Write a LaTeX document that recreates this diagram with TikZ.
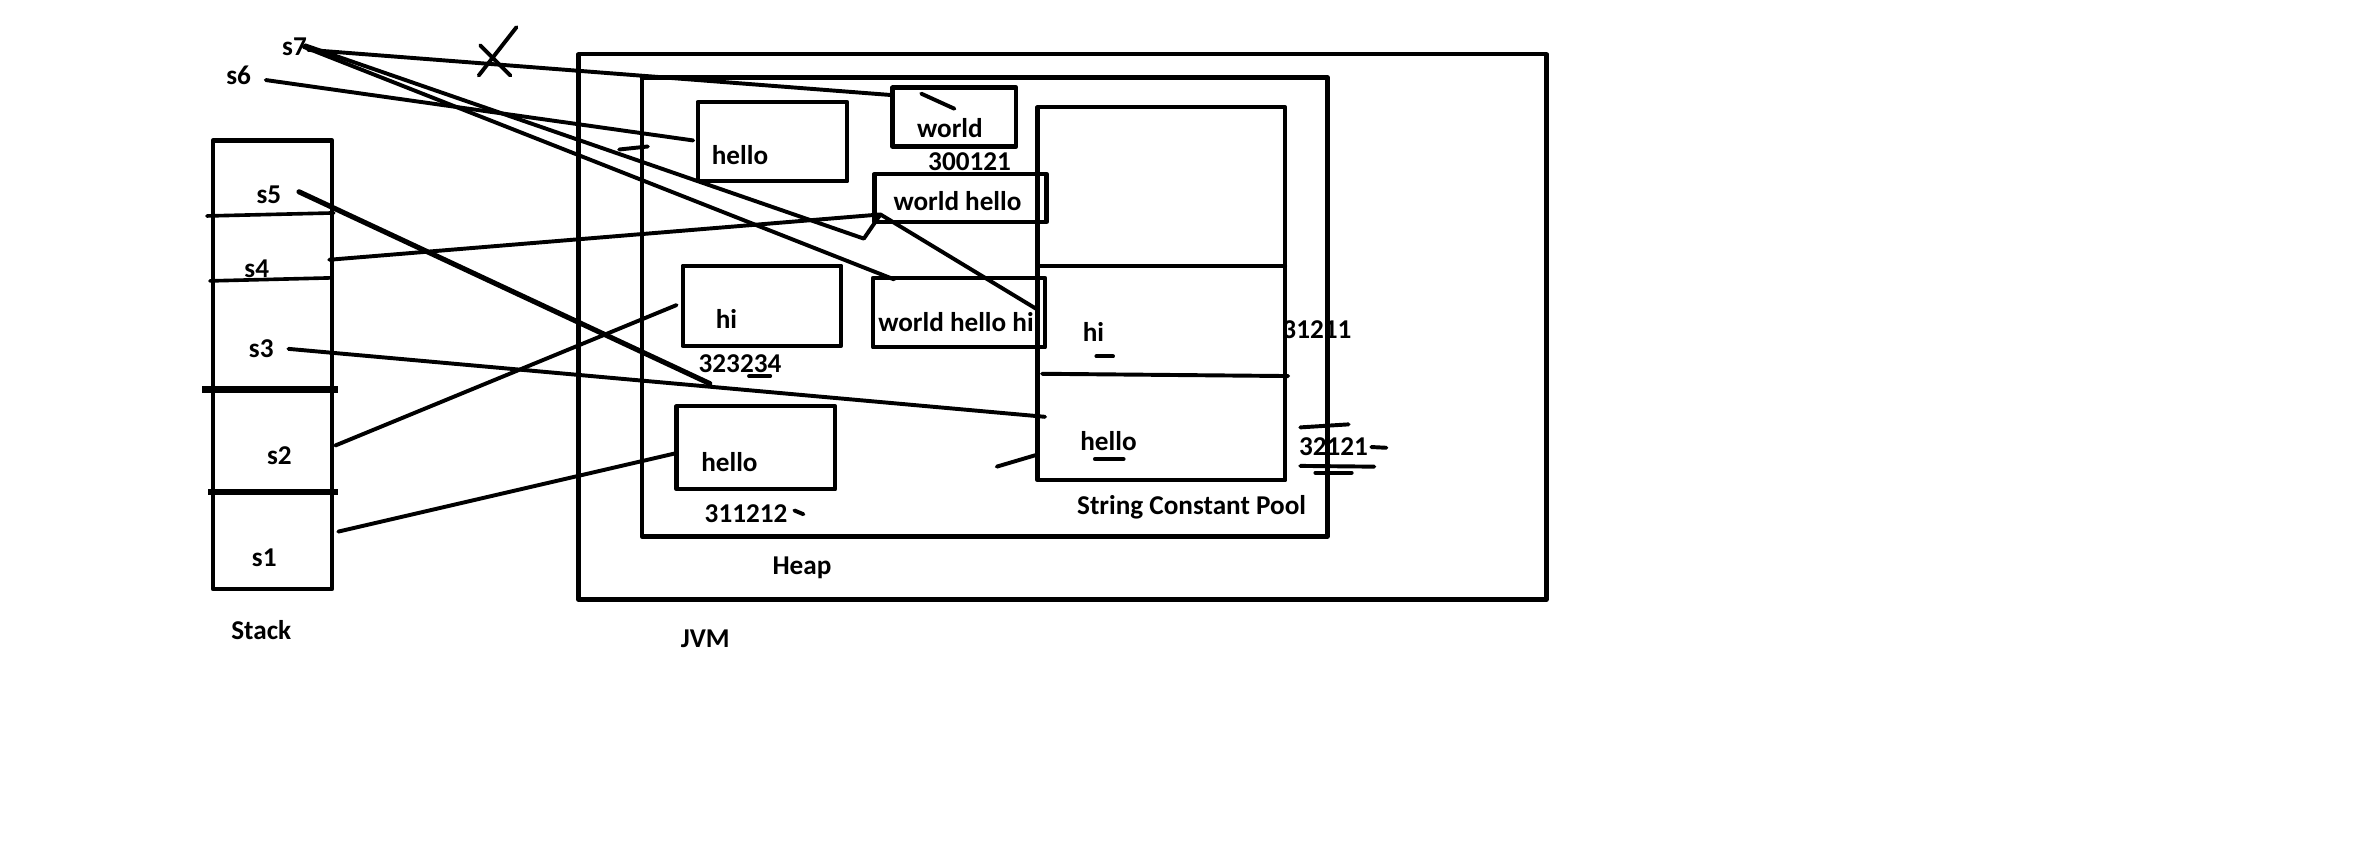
\documentclass[tikz,border=0pt]{standalone}
\usepackage{fontspec}
\setmainfont{Carlito}
\begin{document}
\begin{tikzpicture}[x=1pt,y=-1pt, line cap=round, line join=round,
  box/.style={draw, line width=2.8pt, inner sep=0pt, outer sep=0pt},
  lbl/.style={font=\fontsize{18}{21}\selectfont\bfseries, inner sep=0pt},
  wire/.style={draw, line width=2.6pt},
  stroke/.style={draw, line width=2.6pt}]
\useasboundingbox (0,0) rectangle (1568,568);

% ---------- labels ----------
\node[lbl] (ls7) at (195,31) {s7};
\node[lbl] (ls6) at (158,50) {s6};
\node[lbl] (ls5) at (178,129) {s5};
\node[lbl] (ls4) at (170,178) {s4};
\node[lbl] (ls3) at (173,231) {s3};
\node[lbl] (ls2) at (185,302) {s2};
\node[lbl] (ls1) at (175,369) {s1};
\node[lbl] (lstack) at (173,417) {Stack};
\node[lbl] (ljvm) at (467,423) {JVM};
\node[lbl] (lheap) at (531,376) {Heap};
\node[lbl] (lpool) at (789,336) {String Constant Pool};

\node[lbl] (thello1) at (490,103) {hello};
\node[lbl] (tworld) at (629,85) {world};
\node[lbl] (n300121) at (642,107) {300121};
\node[lbl] (twh) at (634,133) {world hello};
\node[lbl] (thi) at (481,211) {hi};
\node[lbl] (n323234) at (490,241) {323234};
\node[lbl] (twhh) at (633,213) {world hello hi};
\node[lbl] (thello2) at (483,306) {hello};
\node[lbl] (n311212) at (494,340) {311212};
\node[lbl] (tphi) at (724,220) {hi};
\node[lbl] (tphello) at (734,292) {hello};
\node[lbl] (n31211) at (872,218) {31211};
\node[lbl] (n32121) at (883,296) {32121};

% ---------- boxes ----------
\node[box, minimum width=79pt, minimum height=297pt] (stack) at (180.5,241.5) {};
\node[box, minimum width=641pt, minimum height=361pt] (jvm) at (703.5,216.5) {};
\node[box, minimum width=454pt, minimum height=304pt] (heap) at (652,203.25) {};
\node[box, minimum width=164pt, minimum height=247pt] (pool) at (769,194.5) {};
\node[box, minimum width=99pt, minimum height=52.5pt] (hello1) at (511.5,93.75) {};
\node[box, minimum width=82pt, minimum height=39pt] (world) at (632,77.5) {};
\node[box, minimum width=114pt, minimum height=32pt] (wh) at (636,131) {};
\node[box, minimum width=105pt, minimum height=53pt] (hi) at (504.5,202.5) {};
\node[box, minimum width=114pt, minimum height=46pt] (whh) at (635,207) {};
\node[box, minimum width=105pt, minimum height=55pt] (hello2) at (500.5,296.5) {};

% ---------- stack dividers ----------
\draw[line width=2.4pt] (137,143) -- (221,141);
\draw[line width=2.4pt] (139,186) -- (219,184);
\draw[line width=5pt, line cap=butt] (134,258) -- (224,258);
\draw[line width=4pt, line cap=butt] (138,326) -- (224,326);

% ---------- pool dividers ----------
\draw[line width=2.6pt] (688,176) -- (851,176);
\draw[line width=2.6pt] (690,247.5) -- (853,249);

% ---------- small marks ----------
\draw[stroke] (317,50) -- (342,18);
\draw[stroke] (318,30) -- (338,50);
\draw[stroke] (410,99) -- (429,97);
\draw[stroke] (610,62) -- (632,72);
\draw[stroke] (496,249) -- (510,249);
\draw[stroke] (526,338) -- (532,340.5);
\draw[stroke] (726,236) -- (737,236);
\draw[stroke] (725,304) -- (744,304);
\draw[stroke] (660,309) -- (687,301);
\draw[stroke] (861,283) -- (893,281);
\draw[stroke] (861,308.5) -- (910,309);
\draw[stroke] (871,313) -- (895,313);
\draw[stroke] (908,296) -- (918,296.5);

% ---------- connector end points ----------
\coordinate (c7a) at (204,33);
\coordinate (c7b) at (202,30);
\coordinate (c7c) at (201,31);
\coordinate (c6) at (176,53);
\coordinate (c5) at (198,127);
\coordinate (c4) at (218,172);
\coordinate (c3) at (191,231);
\coordinate (c2) at (222,295);
\coordinate (c1) at (224,352);
\coordinate (eworld) at (591,63);
\coordinate (vtip) at (572,158);
\coordinate (ewh) at (583,142);
\coordinate (ewhh) at (592,185);
\coordinate (ehello1) at (459,93);
\coordinate (emeet) at (470,254);
\coordinate (epoolhi) at (687,205);
\coordinate (epoolhello) at (692,276);
\coordinate (ehi) at (448,202);
\coordinate (ehello2) at (448,300);

% ---------- connectors ----------
\draw[wire] (c7a) -- (eworld);
\draw[wire] (c7b) -- (vtip) -- (ewh);
\draw[wire] (c7c) -- (ewhh);
\draw[wire] (c6) -- (ehello1);
\draw[wire, line width=3.4pt] (c5) -- (emeet);
\draw[wire] (c4) -- (ewh);
\draw[wire] (ewh) -- (epoolhi);
\draw[wire] (c3) -- (epoolhello);
\draw[wire] (c2) -- (ehi);
\draw[wire] (c1) -- (ehello2);
\end{tikzpicture}
\end{document}
